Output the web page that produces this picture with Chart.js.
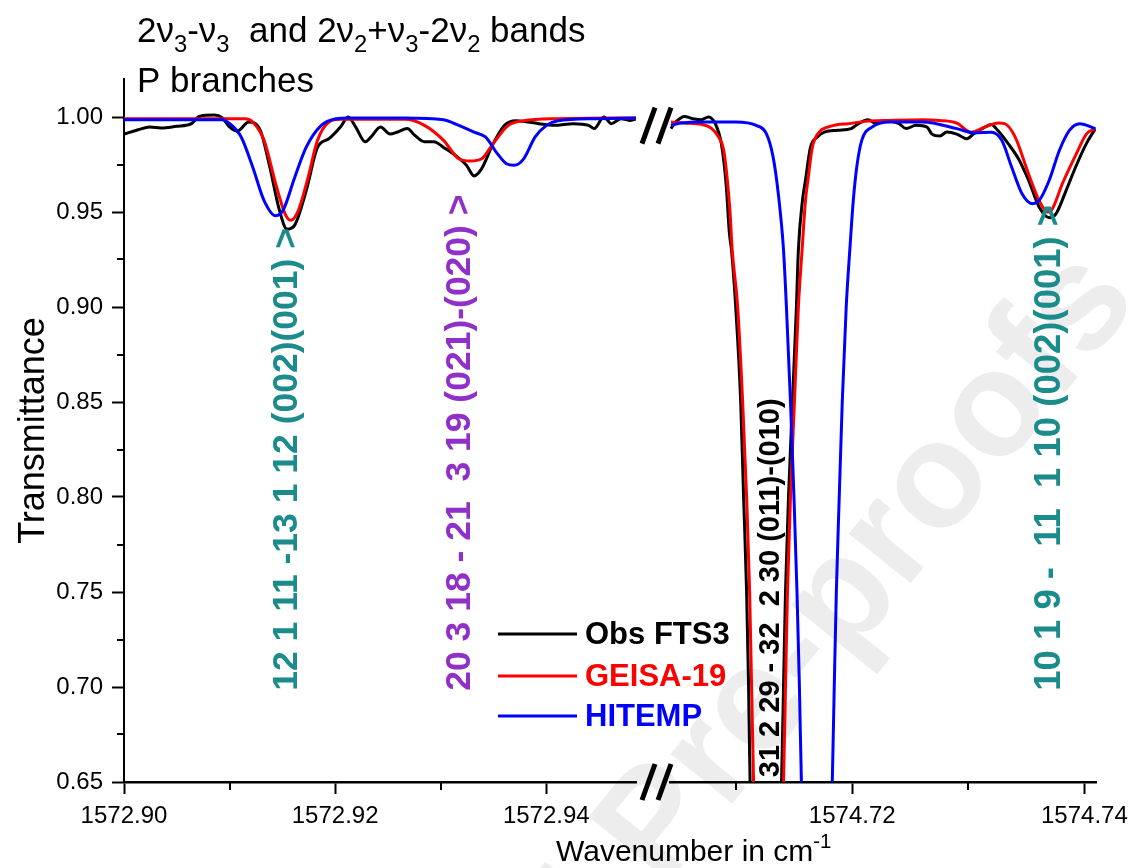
<!DOCTYPE html>
<html><head><meta charset="utf-8">
<script src="https://cdn.jsdelivr.net/npm/chart.js@4/dist/chart.umd.min.js"></script>
<style>html,body{margin:0;padding:0;background:#fff}canvas{display:block}</style>
</head><body>
<canvas id="c" width="1133" height="868"></canvas>
<script>
// ---------- data (wavenumber in cm-1, transmittance) ----------
const obsLX = [1572.90000,1572.90134,1572.90242,1572.90351,1572.90495,1572.90640,1572.90712,1572.90857,1572.90929,1572.91002,1572.91074,1572.91182,1572.91291,1572.91381,1572.91472,1572.91544,1572.91616,1572.91725,1572.91833,1572.91942,1572.92050,1572.92123,1572.92195,1572.92285,1572.92340,1572.92430,1572.92520,1572.92593,1572.92683,1572.92755,1572.92846,1572.92936,1572.93027,1572.93135,1572.93244,1572.93316,1572.93388,1572.93497,1572.93605,1572.93714,1572.93822,1572.93931,1572.94075,1572.94256,1572.94401,1572.94455,1572.94545,1572.94618,1572.94708,1572.94798,1572.94853];
const obsLY = [0.9910,0.9933,0.9947,0.9942,0.9951,0.9965,1.0003,1.0010,0.9996,0.9947,0.9926,0.9974,0.9930,0.9737,0.9510,0.9410,0.9430,0.9610,0.9840,0.9886,0.9947,1.0000,0.9947,0.9870,0.9895,0.9947,0.9910,0.9921,0.9940,0.9903,0.9870,0.9870,0.9840,0.9800,0.9746,0.9690,0.9728,0.9860,0.9956,0.9980,0.9974,0.9965,0.9956,0.9965,0.9956,0.9939,1.0000,0.9965,0.9991,0.9982,0.9991];
const geisaLX = [1572.90000,1572.91146,1572.91219,1572.91327,1572.91436,1572.91526,1572.91580,1572.91653,1572.91743,1572.91833,1572.91942,1572.92050,1572.92665,1572.92846,1572.93027,1572.93171,1572.93280,1572.93388,1572.93497,1572.93641,1572.93786,1572.94111,1572.94853];
const geisaLY = [0.9991,0.9991,0.9974,0.9877,0.9650,0.9490,0.9456,0.9510,0.9680,0.9877,0.9974,0.9988,0.9988,0.9956,0.9877,0.9780,0.9768,0.9780,0.9860,0.9956,0.9980,0.9991,0.9995];
const hitLX = [1572.90000,1572.90929,1572.91002,1572.91110,1572.91219,1572.91327,1572.91436,1572.91508,1572.91616,1572.91725,1572.91869,1572.92014,1572.92123,1572.92665,1572.93027,1572.93171,1572.93316,1572.93424,1572.93533,1572.93623,1572.93696,1572.93786,1572.93895,1572.94003,1572.94111,1572.94473,1572.94853];
const hitLY = [0.9986,0.9986,0.9965,0.9895,0.9737,0.9560,0.9480,0.9510,0.9680,0.9840,0.9956,0.9991,0.9995,0.9995,0.9986,0.9956,0.9920,0.9895,0.9810,0.9754,0.9746,0.9780,0.9895,0.9956,0.9980,0.9991,0.9995];

const obsRX = [1574.70438,1574.70481,1574.70555,1574.70627,1574.70702,1574.70760,1574.70820,1574.70872,1574.70913,1574.70942,1574.70960,1574.70996,1574.71039,1574.71064,1574.71090,1574.71107,1574.71120,1574.71253,1574.71391,1574.71408,1574.71425,1574.71451,1574.71485,1574.71519,1574.71536,1574.71571,1574.71597,1574.71640,1574.71700,1574.71760,1574.71876,1574.71991,1574.72052,1574.72137,1574.72197,1574.72318,1574.72403,1574.72464,1574.72549,1574.72644,1574.72687,1574.72755,1574.72815,1574.72901,1574.72987,1574.73047,1574.73142,1574.73198,1574.73253,1574.73343,1574.73432,1574.73519,1574.73610,1574.73697,1574.73755,1574.73843,1574.73931,1574.74017,1574.74095];
const obsRY = [0.9939,0.9974,1.0003,0.9991,0.9986,1.0000,0.9965,0.9860,0.9650,0.9386,0.9300,0.9000,0.8500,0.8000,0.7500,0.7000,0.6500,0.4000,0.6500,0.7000,0.7500,0.8000,0.8500,0.9000,0.9300,0.9560,0.9667,0.9840,0.9895,0.9920,0.9930,0.9939,0.9965,0.9986,0.9968,0.9977,0.9965,0.9939,0.9956,0.9947,0.9910,0.9900,0.9921,0.9910,0.9886,0.9912,0.9947,0.9961,0.9930,0.9860,0.9780,0.9667,0.9526,0.9470,0.9490,0.9614,0.9746,0.9860,0.9939];
const geisaRX = [1574.70438,1574.70555,1574.70702,1574.70790,1574.70849,1574.70893,1574.70922,1574.70946,1574.70966,1574.71013,1574.71056,1574.71090,1574.71116,1574.71133,1574.71150,1574.71279,1574.71408,1574.71425,1574.71442,1574.71468,1574.71502,1574.71536,1574.71568,1574.71597,1574.71618,1574.71656,1574.71715,1574.71789,1574.71876,1574.71965,1574.72112,1574.72318,1574.72609,1574.72755,1574.72901,1574.73022,1574.73142,1574.73257,1574.73313,1574.73403,1574.73519,1574.73610,1574.73682,1574.73725,1574.73811,1574.73931,1574.74017,1574.74095];
const geisaRY = [0.9974,0.9968,0.9961,0.9939,0.9895,0.9825,0.9680,0.9510,0.9300,0.9000,0.8500,0.8000,0.7500,0.7000,0.6500,0.4000,0.6500,0.7000,0.7500,0.8000,0.8500,0.9000,0.9300,0.9560,0.9667,0.9840,0.9920,0.9947,0.9960,0.9965,0.9977,0.9982,0.9986,0.9982,0.9968,0.9920,0.9947,0.9968,0.9965,0.9895,0.9700,0.9560,0.9500,0.9518,0.9650,0.9807,0.9910,0.9939];
const hitRX = [1574.70438,1574.70524,1574.70702,1574.70996,1574.71172,1574.71260,1574.71318,1574.71363,1574.71408,1574.71433,1574.71468,1574.71498,1574.71524,1574.71545,1574.71562,1574.71695,1574.71828,1574.71845,1574.71863,1574.71888,1574.71914,1574.71948,1574.71979,1574.72009,1574.72039,1574.72082,1574.72170,1574.72318,1574.72609,1574.72901,1574.73052,1574.73198,1574.73288,1574.73373,1574.73463,1574.73550,1574.73610,1574.73697,1574.73785,1574.73871,1574.73960,1574.74095];
const hitRY = [0.9956,0.9968,0.9974,0.9974,0.9956,0.9912,0.9790,0.9596,0.9300,0.9000,0.8500,0.8000,0.7500,0.7000,0.6500,0.4000,0.6500,0.7000,0.7500,0.8000,0.8500,0.9000,0.9300,0.9560,0.9737,0.9877,0.9947,0.9974,0.9974,0.9939,0.9916,0.9920,0.9877,0.9737,0.9596,0.9544,0.9560,0.9667,0.9825,0.9930,0.9965,0.9939];

// ---------- ticks ----------
const yTicks = [0.65,0.70,0.75,0.80,0.85,0.90,0.95,1.00];
const yMinor = [0.675,0.725,0.775,0.825,0.875,0.925,0.975];
const xLTicks = [1572.90,1572.92,1572.94];
const xLMinor = [1572.91,1572.93];
const xRTicks = [1574.72,1574.74];
const xRMinor = [1574.71,1574.73];

// ---------- labels ----------
const seriesNames = ['Obs FTS3','GEISA-19','HITEMP'];
const seriesColors = ['#000000','#ff0000','#0000ff'];
const titleLine1 = [['2\u03bd',0],['3',1],['-\u03bd',0],['3',1],['  and 2\u03bd',0],['2',1],['+\u03bd',0],['3',1],['-2\u03bd',0],['2',1],[' bands',0]];
const titleLine2 = [['P branches',0]];
const xTitle = [['Wavenumber in cm',0],['-1',2]];
const yTitle = 'Transmittance';
const annoTexts = ['12 1 11 -13 1 12 (002)(001) >','20 3 18 - 21  3 19 (021)-(020) >','31 2 29 - 32  2 30 (011)-(010)','10 1 9 -  11  1 10 (002)(001) >'];
const annoX = [1572.91545,1572.93185,1574.71296,1574.73700];
const annoY = [0.698,0.698,0.6525,0.698];
const annoAxis = ['xL','xL','xR','xR'];
const annoColors = ['#1b8b8b','#9030c8','#000000','#1b8b8b'];
const annoSizes = [35.5,35.5,29,36.5];
const watermark = 'Journal Pre-proofs';

const FONT = '"Liberation Sans", Arial, sans-serif';

function pts(xs, ys){ return xs.map((x,i)=>({x:x, y:ys[i]})); }
const common = {yAxisID:'y', borderWidth:3, pointRadius:0, fill:false, cubicInterpolationMode:'monotone', clip:0};
const datasets = [
  Object.assign({label:seriesNames[0], data:pts(obsLX,obsLY), xAxisID:'xL', borderColor:seriesColors[0], order:3}, common),
  Object.assign({label:seriesNames[0], data:pts(obsRX,obsRY), xAxisID:'xR', borderColor:seriesColors[0], order:3}, common),
  Object.assign({label:seriesNames[1], data:pts(geisaLX,geisaLY), xAxisID:'xL', borderColor:seriesColors[1], order:2}, common),
  Object.assign({label:seriesNames[1], data:pts(geisaRX,geisaRY), xAxisID:'xR', borderColor:seriesColors[1], order:2}, common),
  Object.assign({label:seriesNames[2], data:pts(hitLX,hitLY), xAxisID:'xL', borderColor:seriesColors[2], order:1}, common),
  Object.assign({label:seriesNames[2], data:pts(hitRX,hitRY), xAxisID:'xR', borderColor:seriesColors[2], order:1}, common)
];

function fitX(s){ s.height = 86; s.paddingLeft = 0; s.paddingRight = 0; }
const tickFont = {family:FONT, size:24};
function xAxis(min, max, ticks, weight){
  return {type:'linear', position:'bottom', stack:'x', stackWeight:weight, min:min, max:max,
    afterBuildTicks: s => { s.ticks = ticks.map(v=>({value:v})); },
    ticks:{callback:v=>Number(v).toFixed(2), font:tickFont, color:'#000', padding:8, maxRotation:0, autoSkip:false},
    grid:{drawOnChartArea:false, tickLength:12, tickWidth:2, tickColor:'#000'},
    border:{display:true, color:'#000', width:2.5},
    afterFit: fitX};
}

function drawRich(ctx, parts, x, y, size, color){
  ctx.fillStyle = color; ctx.textBaseline = 'alphabetic'; ctx.textAlign = 'left';
  for (const [t, k] of parts){
    const fs = k ? size*0.68 : size;
    ctx.font = fs + 'px ' + FONT;
    const dy = k === 1 ? size*0.28 : (k === 2 ? -size*0.42 : 0);
    ctx.fillText(t, x, y + dy);
    x += ctx.measureText(t).width;
  }
}

const decor = {
  id:'decor',
  beforeDraw(chart){
    const ctx = chart.ctx;
    ctx.save();
    ctx.translate(1140, 300);
    ctx.rotate(-51*Math.PI/180);
    ctx.font = 'bold 150px ' + FONT;
    ctx.textAlign = 'right'; ctx.textBaseline = 'alphabetic';
    ctx.fillStyle = '#ededed';
    ctx.fillText(watermark, 0, 0);
    ctx.restore();
  },
  afterDraw(chart){
    const ctx = chart.ctx, s = chart.scales, ca = chart.chartArea;
    ctx.save();
    // minor ticks
    ctx.strokeStyle = '#000'; ctx.lineWidth = 2;
    ctx.beginPath();
    for (const v of yMinor){ const py = Math.round(s.y.getPixelForValue(v)); ctx.moveTo(ca.left-7, py); ctx.lineTo(ca.left, py); }
    for (const v of xLMinor){ const px = Math.round(s.xL.getPixelForValue(v)); ctx.moveTo(px, ca.bottom); ctx.lineTo(px, ca.bottom+8); }
    for (const v of xRMinor){ const px = Math.round(s.xR.getPixelForValue(v)); ctx.moveTo(px, ca.bottom); ctx.lineTo(px, ca.bottom+8); }
    ctx.stroke();
    // axis break marks
    const gx = s.xG.left;
    ctx.lineWidth = 5; ctx.lineCap = 'butt';
    for (const cy of [s.y.getPixelForValue(0.9955), ca.bottom]){
      ctx.beginPath();
      ctx.moveTo(gx+6, cy+18); ctx.lineTo(gx+19, cy-18);
      ctx.moveTo(gx+22, cy+18); ctx.lineTo(gx+35, cy-18);
      ctx.stroke();
    }
    // annotations
    for (let i = 0; i < annoTexts.length; i++){
      const px = s[annoAxis[i]].getPixelForValue(annoX[i]);
      const py = s.y.getPixelForValue(annoY[i]);
      ctx.save();
      ctx.translate(px, py); ctx.rotate(-Math.PI/2);
      ctx.font = 'bold ' + annoSizes[i] + 'px ' + FONT;
      ctx.fillStyle = annoColors[i]; ctx.textAlign = 'left'; ctx.textBaseline = 'middle';
      ctx.fillText(annoTexts[i], 0, 0);
      ctx.restore();
    }
    // legend
    const ly = [634, 676, 716];
    for (let i = 0; i < 3; i++){
      ctx.strokeStyle = seriesColors[i]; ctx.lineWidth = 3;
      ctx.beginPath(); ctx.moveTo(498, ly[i]); ctx.lineTo(577, ly[i]); ctx.stroke();
      ctx.font = 'bold 31px ' + FONT; ctx.fillStyle = seriesColors[i];
      ctx.textAlign = 'left'; ctx.textBaseline = 'middle';
      ctx.fillText(seriesNames[i], 585, ly[i] + 1);
    }
    // titles
    drawRich(ctx, titleLine1, 137, 42, 35, '#000');
    drawRich(ctx, titleLine2, 137, 92, 35, '#000');
    drawRich(ctx, xTitle, 556, 861, 30, '#000');
    ctx.save();
    ctx.translate(44, (ca.top + ca.bottom)/2); ctx.rotate(-Math.PI/2);
    ctx.font = '36px ' + FONT; ctx.fillStyle = '#000'; ctx.textAlign = 'center'; ctx.textBaseline = 'alphabetic';
    ctx.fillText(yTitle, 0, 0);
    ctx.restore();
    ctx.restore();
  }
};

new Chart(document.getElementById('c'), {
  type:'line',
  data:{datasets:datasets},
  options:{
    responsive:false, animation:false, devicePixelRatio:1,
    layout:{padding:{top:79, right:37, bottom:0, left:0}},
    plugins:{legend:{display:false}, tooltip:{enabled:false}, title:{display:false}},
    scales:{
      xL: xAxis(1572.90, 1572.9485, xLTicks, 512),
      xG: {type:'linear', position:'bottom', stack:'x', stackWeight:34, min:0, max:1,
           ticks:{display:false}, grid:{display:false}, border:{display:false}, afterFit: fitX},
      xR: xAxis(1574.7043, 1574.741, xRTicks, 426),
      y: {type:'linear', position:'left', min:0.65, max:1.02,
          afterBuildTicks: s => { s.ticks = yTicks.map(v=>({value:v})); },
          ticks:{callback:v=>Number(v).toFixed(2), font:tickFont, color:'#000', padding:9},
          grid:{drawOnChartArea:false, tickLength:12, tickWidth:2, tickColor:'#000'},
          border:{display:true, color:'#000', width:2},
          afterFit: s => { s.width = 124; s.paddingTop = 0; s.paddingBottom = 0; }}
    }
  },
  plugins:[decor]
});
</script>
</body></html>
